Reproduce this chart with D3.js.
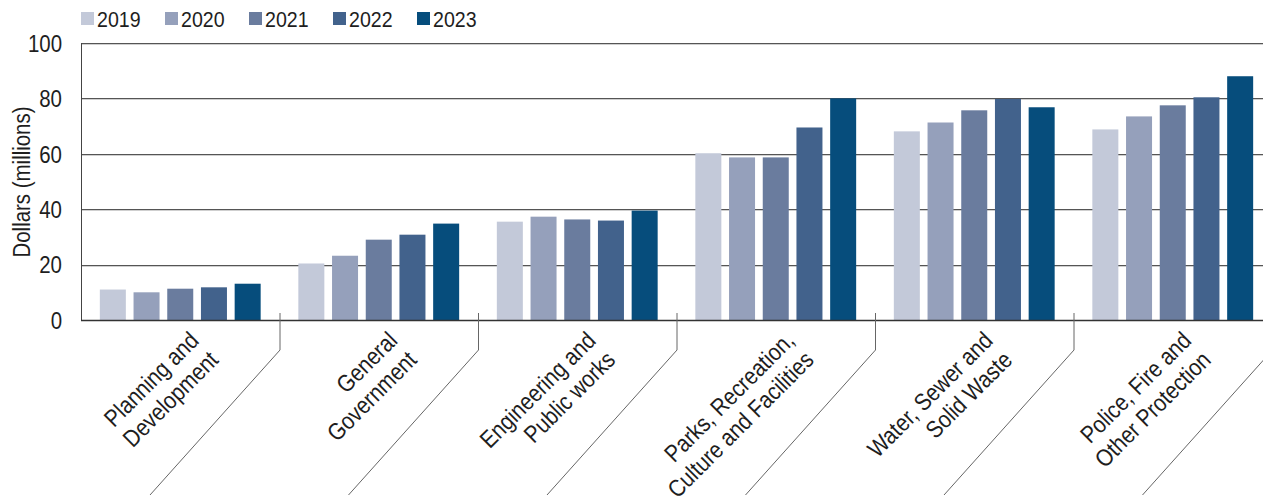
<!DOCTYPE html>
<html>
<head>
<meta charset="utf-8">
<script src="https://cdn.jsdelivr.net/npm/d3@7"></script>
<style>
  html, body { margin: 0; padding: 0; background: #fff; }
  svg { display: block; font-family: "Liberation Sans", Arial, sans-serif; }
</style>
</head>
<body>
<svg id="chart" width="1263" height="500"></svg>
<script>
// Spending by service area, 2019–2023 (millions of dollars)
const categories = [
  ["Planning and", "Development"],
  ["General", "Government"],
  ["Engineering and", "Public works"],
  ["Parks, Recreation,", "Culture and Facilities"],
  ["Water, Sewer and", "Solid Waste"],
  ["Police, Fire and", "Other Protection"]
];
const years = ["2019", "2020", "2021", "2022", "2023"];
const v2019 = [11.0, 20.4, 35.5, 60.2, 68.1, 68.8];
const v2020 = [10.0, 23.2, 37.3, 58.7, 71.3, 73.5];
const v2021 = [11.3, 29.0, 36.3, 58.7, 75.7, 77.5];
const v2022 = [11.8, 30.8, 35.9, 69.5, 79.8, 80.4];
const v2023 = [13.1, 34.8, 39.5, 80.0, 76.8, 88.0];
const yTicks = [0, 20, 40, 60, 80, 100];
const colors = ["#c3c9d9", "#95a0bb", "#6a7c9e", "#42628c", "#064d7c"];

const seriesValues = [v2019, v2020, v2021, v2022, v2023];
const catKeys = categories.map(c => c.join(" "));

// horizontal squeeze giving a condensed look to the sans-serif text
const SQ = 0.87;
const textColor = "#1e1e1e";

const svg = d3.select("#chart");
const plotLeft = 81, plotRight = 1272, plotTop = 43, plotBottom = 320;

const x0 = d3.scaleBand().domain(catKeys).range([plotLeft, plotRight]).paddingInner(0).paddingOuter(0);
const x1 = d3.scaleBand().domain(years).range([0, x0.bandwidth()]).paddingInner(0.2285).paddingOuter(0.559);
const y = d3.scaleLinear().domain([0, 100]).range([plotBottom, plotTop]);
const color = d3.scaleOrdinal().domain(years).range(colors);

// gridlines
const grid = svg.append("g");
yTicks.filter(t => t > 0).forEach(t => {
  grid.append("line").attr("x1", plotLeft).attr("x2", plotRight)
    .attr("y1", Math.round(y(t)) + 1.5).attr("y2", Math.round(y(t)) + 1.5)
    .attr("stroke", "#cfcfcf").attr("stroke-width", 1);
  grid.append("line").attr("x1", plotLeft).attr("x2", plotRight)
    .attr("y1", Math.round(y(t)) + 0.5).attr("y2", Math.round(y(t)) + 0.5)
    .attr("stroke", "#555").attr("stroke-width", 1);
});

// bars
const groups = svg.append("g").selectAll("g")
  .data(catKeys)
  .join("g")
  .attr("transform", d => `translate(${x0(d)},0)`);

groups.selectAll("rect")
  .data((d, i) => years.map((yr, j) => ({ yr, v: seriesValues[j][i] })))
  .join("rect")
  .attr("x", d => x1(d.yr))
  .attr("width", x1.bandwidth())
  .attr("y", d => y(d.v))
  .attr("height", d => y(0) - y(d.v))
  .attr("fill", d => color(d.yr));

// left axis line
svg.append("line").attr("x1", plotLeft + 0.5).attr("x2", plotLeft + 0.5)
  .attr("y1", y(100)).attr("y2", plotBottom + 1)
  .attr("stroke", "#444").attr("stroke-width", 1);

// baseline
svg.append("line").attr("x1", plotLeft).attr("x2", plotRight)
  .attr("y1", plotBottom + 0.5).attr("y2", plotBottom + 0.5)
  .attr("stroke", "#333").attr("stroke-width", 1.6);

// y axis labels
const yAxis = d3.axisLeft(y).tickValues(yTicks).tickSize(0).tickPadding(19);
const yg = svg.append("g").attr("transform", `translate(${plotLeft},0)`).call(yAxis);
yg.select(".domain").remove();
yg.attr("font-family", null).attr("font-size", null);
yg.selectAll("text")
  .attr("x", -19 / SQ)
  .attr("transform", `scale(${SQ},1)`)
  .attr("font-size", 23.5).attr("fill", textColor).attr("dy", "0.35em");

// y axis title
svg.append("text")
  .attr("transform", `translate(30,182) rotate(-90) scale(${SQ},1)`)
  .attr("text-anchor", "middle")
  .attr("font-size", 23.5).attr("fill", textColor)
  .text("Dollars (millions)");

// category separators with slanted leader lines
const bounds = catKeys.map(k => x0(k) + x0.bandwidth());
svg.append("g").selectAll("path")
  .data(bounds)
  .join("path")
  .attr("d", b => `M${b + 0.5},${plotBottom - 7} L${b + 0.5},350 L${b - 129.5},495`)
  .attr("fill", "none").attr("stroke", "#666").attr("stroke-width", 1);

// category labels, rotated and right-aligned
const labels = svg.append("g").selectAll("text")
  .data(categories)
  .join("text")
  .attr("transform", (d, i) => {
    const cx = x0(catKeys[i]) + x0.bandwidth() / 2;
    return `translate(${cx + 20},${plotBottom + 22}) rotate(-45) scale(${SQ},1)`;
  })
  .attr("text-anchor", "end")
  .attr("font-size", 24).attr("fill", textColor);
labels.selectAll("tspan")
  .data(d => d)
  .join("tspan")
  .attr("x", 0)
  .attr("dy", (d, i) => i === 0 ? 0 : 27.5)
  .text(d => d);

// legend
const legend = svg.append("g").selectAll("g")
  .data(years)
  .join("g")
  .attr("transform", (d, i) => `translate(${81 + i * 84},0)`);
legend.append("rect").attr("x", 0).attr("y", 12).attr("width", 13).attr("height", 13)
  .attr("fill", d => color(d));
legend.append("text")
  .attr("transform", `translate(16,27) scale(${SQ},1)`)
  .attr("font-size", 22.5).attr("fill", textColor).text(d => d);
</script>
</body>
</html>
